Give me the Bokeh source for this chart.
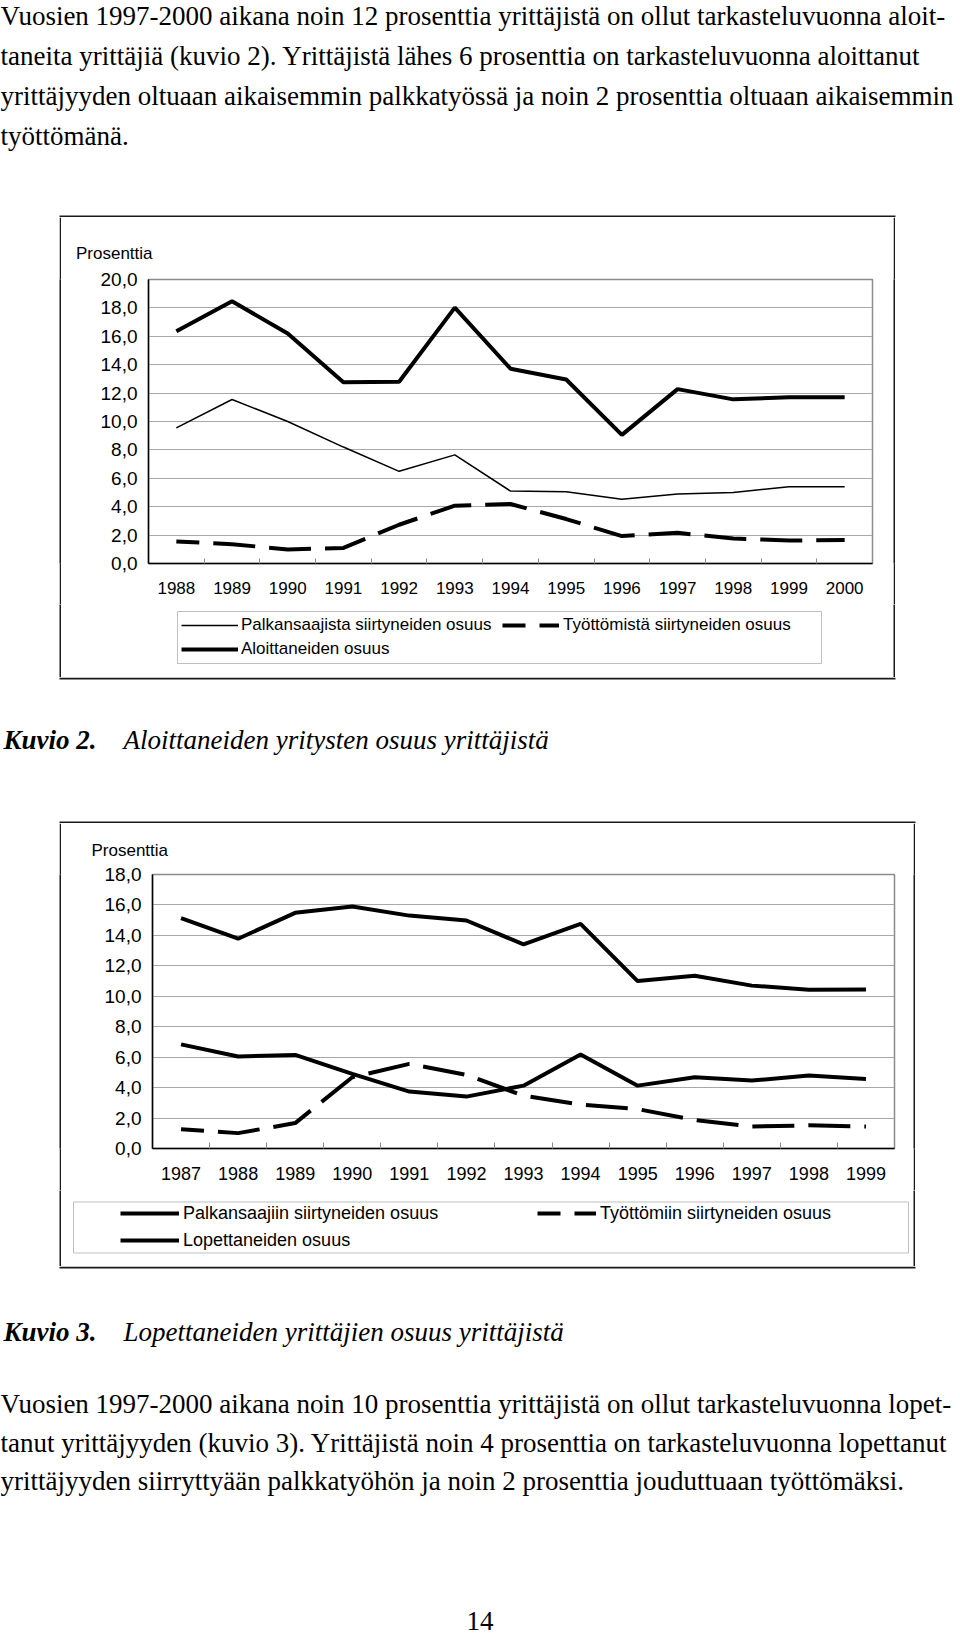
import numpy as np
from bokeh.plotting import figure
from bokeh.layouts import column, row
from bokeh.models import Range1d, FixedTicker, Legend, LegendItem, Spacer
from bokeh.core.properties import value
from bokeh.embed import file_html
from bokeh.resources import INLINE

SANS = "Liberation Sans"
SERIF = "Liberation Serif"
BODY = "27px"
BOX = "#1a1a1a"
LEGBOX = "#bfbfbf"
DASH = "42 14"

# ---------------- text ----------------
para1 = [
    "Vuosien 1997-2000 aikana noin 12 prosenttia yrittäjistä on ollut tarkasteluvuonna aloit-",
    "taneita yrittäjiä (kuvio 2). Yrittäjistä lähes 6 prosenttia on tarkasteluvuonna aloittanut",
    "yrittäjyyden oltuaan aikaisemmin palkkatyössä ja noin 2 prosenttia oltuaan aikaisemmin",
    "työttömänä.",
]
para2 = [
    "Vuosien 1997-2000 aikana noin 10 prosenttia yrittäjistä on ollut tarkasteluvuonna lopet-",
    "tanut yrittäjyyden (kuvio 3). Yrittäjistä noin 4 prosenttia on tarkasteluvuonna lopettanut",
    "yrittäjyyden siirryttyään palkkatyöhön ja noin 2 prosenttia jouduttuaan työttömäksi.",
]
cap2_num, cap2_text = "Kuvio 2.", "Aloittaneiden yritysten osuus yrittäjistä"
cap3_num, cap3_text = "Kuvio 3.", "Lopettaneiden yrittäjien osuus yrittäjistä"
page_no = "14"
y_title = "Prosenttia"

# ---------------- chart 1 data ----------------
years1 = [1988, 1989, 1990, 1991, 1992, 1993, 1994, 1995, 1996, 1997, 1998, 1999, 2000]
palkansaajista = [9.55, 11.55, 10.0, 8.2, 6.49, 7.65, 5.1, 5.05, 4.52, 4.9, 5.0, 5.4, 5.4]
tyottomista = [1.55, 1.36, 0.99, 1.1, 2.73, 4.07, 4.19, 3.13, 1.93, 2.16, 1.76, 1.62, 1.65]
aloittaneet = [16.35, 18.47, 16.19, 12.77, 12.8, 18.02, 13.72, 12.96, 9.06, 12.28, 11.56, 11.7, 11.7]
yticks1 = [0, 2, 4, 6, 8, 10, 12, 14, 16, 18, 20]
ylabels1 = ["0,0", "2,0", "4,0", "6,0", "8,0", "10,0", "12,0", "14,0", "16,0", "18,0", "20,0"]
names1 = ["Palkansaajista siirtyneiden osuus", "Työttömistä siirtyneiden osuus", "Aloittaneiden osuus"]

# ---------------- chart 2 data ----------------
years2 = [1987, 1988, 1989, 1990, 1991, 1992, 1993, 1994, 1995, 1996, 1997, 1998, 1999]
palkansaajiin = [6.84, 6.04, 6.15, 4.9, 3.74, 3.41, 4.13, 6.18, 4.13, 4.68, 4.46, 4.79, 4.57]
tyottomiin = [1.27, 1.01, 1.67, 4.68, 5.56, 4.84, 3.47, 2.88, 2.59, 1.87, 1.45, 1.52, 1.45]
lopettaneet = [15.13, 13.78, 15.48, 15.9, 15.3, 14.98, 13.41, 14.76, 11.0, 11.35, 10.7, 10.43, 10.45]
yticks2 = [0, 2, 4, 6, 8, 10, 12, 14, 16, 18]
ylabels2 = ["0,0", "2,0", "4,0", "6,0", "8,0", "10,0", "12,0", "14,0", "16,0", "18,0"]
names2 = ["Palkansaajiin siirtyneiden osuus", "Työttömiin siirtyneiden osuus", "Lopettaneiden osuus"]

# line styles of the three series (thin solid / dashed / thick solid)
style_thin = dict(line_color="black", line_width=1.5)
style_thick = dict(line_color="black", line_width=4)
style_dash = dict(line_color="black", line_width=4, line_dash=DASH, line_dash_offset=19)

NOPOINT = [np.nan]  # invisible placeholder data for legend-key renderers


def blank(w, h):
    p = figure(width=w, height=h, x_range=Range1d(0, w), y_range=Range1d(h, 0),
               output_backend="svg", toolbar_location=None, min_border=0,
               x_axis_location=None, y_axis_location=None)
    p.grid.visible = False
    p.outline_line_color = None
    p.background_fill_color = "white"
    p.border_fill_color = "white"
    return p


def strip(h):
    p = figure(width=2, height=h, output_backend="svg", toolbar_location=None,
               min_border=0, x_axis_location=None, y_axis_location=None)
    p.grid.visible = False
    p.outline_line_color = None
    p.background_fill_color = BOX
    p.border_fill_color = BOX
    return p


def body(p, xs, ys, texts, size=BODY, style="normal", align="left"):
    p.text(x=xs, y=ys, text=texts, text_font=value(SERIF), text_font_size=size,
           text_font_style=style, text_baseline="alphabetic", text_align=align,
           text_color="black")


def hline(p, x0, x1, y):
    p.segment(x0=[x0], y0=[y], x1=[x1], y1=[y], line_color=BOX, line_width=2)


def chart(w, h, borders, years, yticks, ylabels, fs, yfs, title_offset, title_standoff,
          label_standoff, ystandoff, tick_in):
    left, right, top, bottom = borders
    p = figure(width=w, height=h, output_backend="svg", toolbar_location=None,
               x_range=Range1d(years[0] - 0.5, years[-1] + 0.5),
               y_range=Range1d(yticks[0], yticks[-1]),
               min_border_left=left, min_border_right=right,
               min_border_top=top, min_border_bottom=bottom,
               title=y_title)
    p.background_fill_color = "white"
    p.border_fill_color = "white"
    p.outline_line_color = "#8c8c8c"
    p.outline_line_width = 1.5
    p.title.text_font = SANS
    p.title.text_font_size = "17px"
    p.title.text_font_style = "normal"
    p.title.text_color = "black"
    p.title.align = "left"
    p.title.offset = title_offset
    p.title.standoff = title_standoff

    bounds = [y + 0.5 for y in years[:-1]]
    p.xaxis.ticker = FixedTicker(ticks=years, minor_ticks=bounds)
    p.xaxis.major_label_overrides = {y: str(y) for y in years}
    p.xaxis.major_tick_in = 0
    p.xaxis.major_tick_out = 0
    p.xaxis.minor_tick_in = tick_in
    p.xaxis.minor_tick_out = 0
    p.xaxis.minor_tick_line_color = "#8c8c8c"
    p.xaxis.major_label_standoff = label_standoff
    p.xaxis.major_label_text_font_size = fs

    p.yaxis.ticker = FixedTicker(ticks=yticks)
    p.yaxis.major_label_overrides = dict(zip(yticks, ylabels))
    p.yaxis.major_tick_in = 0
    p.yaxis.major_tick_out = 0
    p.yaxis.minor_tick_line_color = None
    p.yaxis.major_label_standoff = ystandoff
    p.yaxis.major_label_text_font_size = yfs

    for ax in (p.xaxis, p.yaxis):
        ax.axis_line_color = "black"
        ax.axis_line_width = 1.5
        ax.major_label_text_font = SANS
        ax.major_label_text_color = "black"

    p.xgrid.visible = False
    p.ygrid.ticker = FixedTicker(ticks=yticks)
    p.ygrid.grid_line_color = "#a8a8a8"
    p.ygrid.grid_line_width = 1
    return p


def legend(items, loc, fs, spacing, gw, standoff):
    return Legend(items=items, location=loc, padding=0, spacing=spacing, margin=0,
                  glyph_width=gw, glyph_height=22, label_height=22,
                  label_standoff=standoff, label_text_font=SANS,
                  label_text_font_size=fs, label_text_color="black",
                  border_line_color=None, background_fill_alpha=0)


# ---------------- chart 1 (page y 217..604) ----------------
c1 = chart(832, 387, (87, 21, 62, 41), years1, yticks1, ylabels1, "17px", "19px",
           -72.5, 33, 18, 11, 5)
c1.line(years1, palkansaajista, **style_thin)
c1.line(years1, tyottomista, **style_dash)
c1.line(years1, aloittaneet, **style_thick)

# legend area of chart 1 (page y 604..677)
lf1 = blank(832, 73)
lf1.quad(left=[116], right=[760], top=[7], bottom=[59], fill_alpha=0,
         line_color=LEGBOX, line_width=1)
k1_thin = lf1.line(x=NOPOINT, y=NOPOINT, **style_thin)
k1_dash = lf1.line(x=NOPOINT, y=NOPOINT, **style_dash)
k1_thick = lf1.line(x=NOPOINT, y=NOPOINT, **style_thick)
lf1.add_layout(legend([LegendItem(label=names1[0], renderers=[k1_thin]),
                       LegendItem(label=names1[2], renderers=[k1_thick])],
                      (120, 17), "17px", 2, 57, 3))
lf1.add_layout(legend([LegendItem(label=names1[1], renderers=[k1_dash])],
                      (441, 41), "17px", 2, 57, 4))

# ---------------- chart 2 (page y 823..1190) ----------------
c2 = chart(852, 367, (91, 19, 50, 42), years2, yticks2, ylabels2, "18px", "19px",
           -61, 30, 18, 11, 6)
c2.line(years2, palkansaajiin, **style_thick)
c2.line(years2, tyottomiin, **style_dash)
c2.line(years2, lopettaneet, **style_thick)

# legend area of chart 2 (page y 1190..1266)
lf2 = blank(852, 76)
lf2.quad(left=[12], right=[847], top=[11.5], bottom=[62.5], fill_alpha=0,
         line_color=LEGBOX, line_width=1)
k2_palk = lf2.line(x=NOPOINT, y=NOPOINT, **style_thick)
k2_dash = lf2.line(x=NOPOINT, y=NOPOINT, **style_dash)
k2_lop = lf2.line(x=NOPOINT, y=NOPOINT, **style_thick)
lf2.add_layout(legend([LegendItem(label=names2[0], renderers=[k2_palk]),
                       LegendItem(label=names2[2], renderers=[k2_lop])],
                      (59, 15), "18px", 5, 59, 4))
lf2.add_layout(legend([LegendItem(label=names2[1], renderers=[k2_dash])],
                      (476, 42), "18px", 5, 59, 4))

# ---------------- text blocks ----------------
t1 = blank(960, 217)
body(t1, [0] * 4, [15.5, 55, 95, 135], para1)
hline(t1, 59, 895, 216)

t2 = blank(960, 146)
hline(t2, 59, 895, 1)
hline(t2, 59, 915, 145)
body(t2, [3], [62], [cap2_num], style="bold italic")
body(t2, [123], [62], [cap2_text], style="italic")

t3 = blank(960, 369)
hline(t3, 59, 915, 1)
body(t3, [3], [65], [cap3_num], style="bold italic")
body(t3, [123], [65], [cap3_text], style="italic")
body(t3, [0] * 3, [137, 176, 214.5], para2)
body(t3, [479.5], [354], [page_no], align="center")


def boxed(fig, h, right_pad):
    return row(Spacer(width=59, height=h), strip(h), fig, strip(h),
               Spacer(width=right_pad, height=h), spacing=0)


page = column(
    t1,
    boxed(c1, 387, 65),
    boxed(lf1, 73, 65),
    t2,
    boxed(c2, 367, 45),
    boxed(lf2, 76, 45),
    t3,
    spacing=0,
)

open("out.html", "w").write(file_html(page, INLINE))
